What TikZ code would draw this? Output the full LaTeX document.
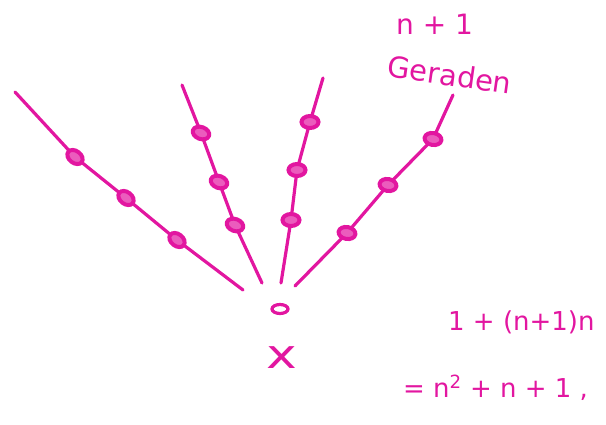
\documentclass[tikz,border=0pt]{standalone}
\usepackage{fontspec}
\setmainfont{DejaVu Sans}
\usetikzlibrary{shapes.geometric,backgrounds}
\definecolor{pen}{RGB}{226,22,160}
\begin{document}
\begin{tikzpicture}[x=1pt,y=-1pt,
  pen/.style={draw=pen,line width=3.2pt,line cap=round,line join=round},
  dot/.style={ellipse,draw=pen,line width=4pt,fill=pen!70,minimum width=17pt,minimum height=12pt,inner sep=0pt},
  hand/.style={text=pen,inner sep=0pt}]
\useasboundingbox (0,0) rectangle (606,424);
% points on the lines
\node[dot,rotate=-38] (p11) at (75,157) {};
\node[dot,rotate=-38] (p12) at (126,198) {};
\node[dot,rotate=-38] (p13) at (177,240) {};
\node[dot,rotate=-20] (p21) at (201,133) {};
\node[dot,rotate=-20] (p22) at (219,182) {};
\node[dot,rotate=-20] (p23) at (235,225) {};
\node[dot] (p31) at (310,122) {};
\node[dot] (p32) at (297,170) {};
\node[dot] (p33) at (291,220) {};
\node[dot,rotate=-10] (p41) at (433,139) {};
\node[dot,rotate=-10] (p42) at (388,185) {};
\node[dot,rotate=-10] (p43) at (347,233) {};
% end points of the four lines
\coordinate (a1) at (15,92);  \coordinate (a2) at (243,290);
\coordinate (b1) at (182,85); \coordinate (b2) at (262,283);
\coordinate (c1) at (323,78); \coordinate (c2) at (281,283);
\coordinate (d1) at (453,95); \coordinate (d2) at (295,286);
\begin{scope}[on background layer]
\draw[pen] (a1) -- (p11.center) -- (p12.center) -- (p13.center) -- (a2);
\draw[pen] (b1) -- (p21.center) -- (p22.center) -- (p23.center) -- (b2);
\draw[pen] (c1) -- (p31.center) -- (p32.center) -- (p33.center) -- (c2);
\draw[pen] (d1) -- (p41.center) -- (p42.center) -- (p43.center) -- (d2);
\end{scope}
% the point x
\node[ellipse,draw=pen,line width=3.2pt,minimum width=16pt,minimum height=9pt,inner sep=0pt] (x) at (280,309) {};
\node[hand,font=\fontsize{40}{40}\selectfont,xscale=1.3] (xl) at (282,358) {x};
% labels
\node[hand,anchor=west,font=\fontsize{28}{28}\selectfont] (nl) at (396,24) {n + 1};
\node[hand,anchor=west,rotate=-8,font=\fontsize{29}{29}\selectfont] (ger) at (388,66) {Geraden};
\node[hand,anchor=west,font=\fontsize{26}{26}\selectfont] (f1) at (448,322) {1 + (n+1)n};
\node[hand,anchor=west,font=\fontsize{26}{26}\selectfont] (f2) at (403,388) {= n\textsuperscript{2} + n + 1 ,};
\end{tikzpicture}
\end{document}
